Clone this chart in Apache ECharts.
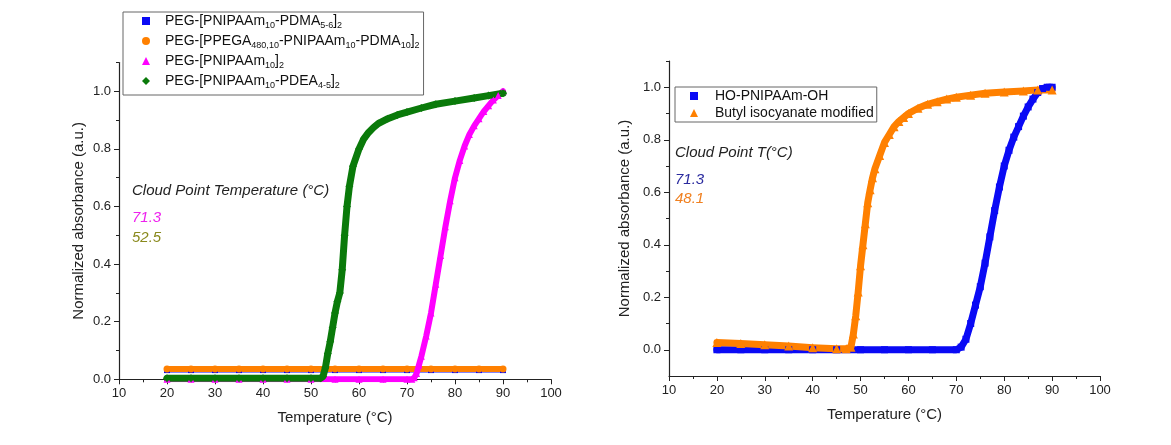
<!DOCTYPE html>
<html><head><meta charset="utf-8">
<script src="https://cdn.jsdelivr.net/npm/echarts@6/dist/echarts.min.js"></script>
<style>html,body{margin:0;padding:0;background:#fff}#c{width:1171px;height:445px}</style>
</head><body><div id="c"></div>
<script>
// ---------- data ----------
const xTicks = [10, 20, 30, 40, 50, 60, 70, 80, 90, 100];
const yTicks = [0, 0.2, 0.4, 0.6, 0.8, 1.0];
const yMinorLeft = [0.1, 0.3, 0.5, 0.7, 0.9, 1.1];
const yMinorRight = [0.1, 0.3, 0.5, 0.7, 0.9, 1.1];

// Left panel
const pdmaT = [20, 25, 30, 35, 40, 45, 50, 55, 60, 65, 70, 75, 80, 85, 90];
const pdmaV = [0.032, 0.032, 0.032, 0.032, 0.032, 0.032, 0.032, 0.032, 0.032, 0.032, 0.032, 0.032, 0.032, 0.032, 0.032];

const ppegaT = [20, 25, 30, 35, 40, 45, 50, 55, 60, 65, 70, 75, 80, 85, 90];
const ppegaV = [0.036, 0.036, 0.036, 0.036, 0.036, 0.036, 0.036, 0.036, 0.036, 0.036, 0.036, 0.036, 0.036, 0.036, 0.036];

const pnipaamT = [20, 25, 30, 35, 40, 45, 50, 55, 60, 65, 70, 71, 71.5, 72, 72.5, 73, 74, 75, 76, 77, 78, 79, 80, 81, 82, 83, 84, 85, 86, 87, 88, 89, 90];
const pnipaamV = [0, 0, 0, 0, 0, 0, 0, 0, 0, 0, 0, 0, 0.005, 0.02, 0.05, 0.08, 0.15, 0.23, 0.33, 0.43, 0.53, 0.62, 0.70, 0.76, 0.81, 0.85, 0.88, 0.905, 0.93, 0.95, 0.97, 0.985, 1.0];

const pdeaT = [20, 25, 30, 35, 40, 45, 50, 52, 52.5, 53, 53.5, 54, 54.5, 55, 55.5, 56, 56.5, 57, 57.5, 58, 58.75, 60, 61, 62, 63, 64, 66, 68, 70, 73, 76, 80, 84, 87, 90];
const pdeaV = [0.004, 0.004, 0.004, 0.004, 0.004, 0.004, 0.004, 0.004, 0.01, 0.04, 0.09, 0.13, 0.18, 0.23, 0.27, 0.30, 0.38, 0.50, 0.60, 0.67, 0.74, 0.80, 0.835, 0.857, 0.874, 0.888, 0.905, 0.918, 0.928, 0.942, 0.955, 0.966, 0.977, 0.985, 0.993];

// Right panel
const hoT = [20, 25, 30, 35, 40, 45, 50, 55, 60, 65, 70, 71, 72, 73, 74, 75, 76, 77, 78, 79, 80, 81, 82, 83, 84, 85, 86, 87, 88, 89, 90];
const hoV = [0, 0, 0, 0, 0, 0, 0, 0, 0, 0, 0, 0.01, 0.04, 0.10, 0.17, 0.24, 0.33, 0.43, 0.53, 0.62, 0.70, 0.76, 0.81, 0.85, 0.89, 0.925, 0.955, 0.98, 0.995, 1.0, 1.0];

const butylT = [20, 25, 30, 35, 40, 45, 47, 48, 48.5, 49, 49.5, 50, 50.5, 51, 51.5, 52, 52.5, 53, 54, 55, 56, 57, 58, 59, 60, 62, 64, 66, 68, 70, 73, 76, 80, 84, 87, 90];
const butylV = [0.028, 0.024, 0.019, 0.014, 0.008, 0.004, 0.004, 0.01, 0.06, 0.13, 0.22, 0.32, 0.40, 0.48, 0.56, 0.61, 0.655, 0.69, 0.74, 0.79, 0.82, 0.85, 0.87, 0.885, 0.90, 0.92, 0.935, 0.945, 0.955, 0.962, 0.97, 0.977, 0.982, 0.986, 0.99, 0.99];

const leftNames = ['PEG-[PNIPAAm10-PDMA5-6]2', 'PEG-[PPEGA480,10-PNIPAAm10-PDMA10]2', 'PEG-[PNIPAAm10]2', 'PEG-[PNIPAAm10-PDEA4-5]2'];
const leftRich = [
  '{n|PEG-[PNIPAAm}{s|10}{n|-PDMA}{s|5-6}{n|]}{s|2}',
  '{n|PEG-[PPEGA}{s|480,10}{n|-PNIPAAm}{s|10}{n|-PDMA}{s|10}{n|]}{s|2}',
  '{n|PEG-[PNIPAAm}{s|10}{n|]}{s|2}',
  '{n|PEG-[PNIPAAm}{s|10}{n|-PDEA}{s|4-5}{n|]}{s|2}'
];
const rightNames = ['HO-PNIPAAm-OH', 'Butyl isocyanate modified'];

// ---------- styling ----------
const FONT = "'Liberation Sans', Arial, sans-serif";
const AX = '#222';
const C = { blue: '#0a0af5', orange: '#ff8000', magenta: '#ff00ff', green: '#0a7a0a' };

function zip(t, v) { return t.map((x, i) => [x, v[i]]); }

function xAxisDef(gi) {
  return {
    type: 'value', gridIndex: gi, min: 10, max: 100, interval: 10,
    name: 'Temperature (°C)', nameLocation: 'middle', nameGap: 31,
    nameTextStyle: { fontFamily: FONT, fontSize: 15, color: AX },
    axisLine: { onZero: false, lineStyle: { color: AX, width: 1.2 } },
    axisTick: { length: 5, lineStyle: { color: AX } },
    minorTick: { show: true, splitNumber: 2, length: 3, lineStyle: { color: AX } },
    axisLabel: { fontFamily: FONT, fontSize: 13, color: AX, margin: 8 },
    splitLine: { show: false }
  };
}
function yAxisDef(gi, min, gap) {
  return {
    type: 'value', gridIndex: gi, position: 'left', min: min, max: 1.1, interval: 0.1,
    name: 'Normalized absorbance (a.u.)', nameLocation: 'middle', nameGap: gap,
    nameTextStyle: { fontFamily: FONT, fontSize: 15, color: AX },
    axisLine: { onZero: false, lineStyle: { color: AX, width: 1.2 } },
    axisTick: { customValues: yTicks, length: 5, lineStyle: { color: AX } },
    axisLabel: { customValues: yTicks, fontFamily: FONT, fontSize: 13, color: AX, margin: 8,
                 formatter: v => v.toFixed(1) },
    splitLine: { show: false }
  };
}
function yMinorDef(gi, min, vals) {
  return {
    type: 'value', gridIndex: gi, position: 'left', offset: 0, min: min, max: 1.1, interval: 0.1,
    axisLine: { show: false, onZero: false },
    axisTick: { customValues: vals, length: 3, lineStyle: { color: AX } },
    axisLabel: { show: false }, splitLine: { show: false }
  };
}
function ser(name, t, v, color, symbol, size, xi, yi, lw) {
  return {
    type: 'line', name: name, xAxisIndex: xi, yAxisIndex: yi, data: zip(t, v),
    symbol: symbol, symbolSize: size, showAllSymbol: true, smooth: false,
    lineStyle: { color: color, width: lw, cap: 'round', join: 'round' },
    itemStyle: { color: color, borderWidth: 0 },
    emphasis: { disabled: true }, animation: false
  };
}

const chart = echarts.init(document.getElementById('c'), null, { renderer: 'canvas' });
chart.setOption({
  backgroundColor: '#ffffff',
  animation: false,
  grid: [
    { left: 119, top: 62.5, width: 432, height: 316.8 },
    { left: 669, top: 61, width: 431, height: 315 }
  ],
  xAxis: [xAxisDef(0), xAxisDef(1)],
  yAxis: [yAxisDef(0, 0, 33), yAxisDef(1, -0.1, 37), yMinorDef(0, 0, yMinorLeft), yMinorDef(1, -0.1, yMinorRight)],
  legend: [
    {
      orient: 'vertical', left: 123, top: 12, itemWidth: 8, itemHeight: 8, itemGap: 4,
      padding: [2, 4, 5, 19], borderColor: '#666', borderWidth: 1, selectedMode: false,
      data: [
        { name: leftNames[0], icon: 'rect' },
        { name: leftNames[1], icon: 'circle' },
        { name: leftNames[2], icon: 'triangle' },
        { name: leftNames[3], icon: 'diamond' }
      ],
      formatter: name => leftRich[leftNames.indexOf(name)],
      textStyle: {
        fontFamily: FONT, fontSize: 14, color: '#111', padding: [0, 0, 0, 10],
        rich: {
          n: { fontFamily: FONT, fontSize: 14, lineHeight: 18, color: '#111' },
          s: { fontFamily: FONT, fontSize: 9, lineHeight: 8, verticalAlign: 'bottom', color: '#111' }
        }
      }
    },
    {
      orient: 'vertical', left: 675, top: 87, itemWidth: 8, itemHeight: 8, itemGap: 1,
      padding: [1, 3, 1, 15], borderColor: '#666', borderWidth: 1, selectedMode: false,
      data: [
        { name: rightNames[0], icon: 'rect' },
        { name: rightNames[1], icon: 'triangle' }
      ],
      textStyle: { fontFamily: FONT, fontSize: 14, color: '#111', lineHeight: 16, padding: [0, 0, 0, 12] }
    }
  ],
  graphic: [
    { type: 'text', x: 132, y: 190.7, style: { text: 'Cloud Point Temperature (°C)', font: 'italic 15px ' + FONT, fill: '#222', verticalAlign: 'middle' } },
    { type: 'text', x: 132, y: 218.3, style: { text: '71.3', font: 'italic 15px ' + FONT, fill: '#ee22ee', verticalAlign: 'middle' } },
    { type: 'text', x: 132, y: 237.7, style: { text: '52.5', font: 'italic 15px ' + FONT, fill: '#8a8a1e', verticalAlign: 'middle' } },
    { type: 'text', x: 675, y: 152.7, style: { text: 'Cloud Point T(°C)', font: 'italic 15px ' + FONT, fill: '#222', verticalAlign: 'middle' } },
    { type: 'text', x: 675, y: 180, style: { text: '71.3', font: 'italic 15px ' + FONT, fill: '#2a2a9e', verticalAlign: 'middle' } },
    { type: 'text', x: 675, y: 199, style: { text: '48.1', font: 'italic 15px ' + FONT, fill: '#f08020', verticalAlign: 'middle' } }
  ],
  series: [
    ser(leftNames[0], pdmaT, pdmaV, C.blue, 'rect', 6, 0, 0, 5),
    ser(leftNames[1], ppegaT, ppegaV, C.orange, 'circle', 7, 0, 0, 6),
    ser(leftNames[2], pnipaamT, pnipaamV, C.magenta, 'triangle', 7, 0, 0, 6),
    ser(leftNames[3], pdeaT, pdeaV, C.green, 'diamond', 8, 0, 0, 7),
    ser(rightNames[0], hoT, hoV, C.blue, 'rect', 7, 1, 1, 7),
    ser(rightNames[1], butylT, butylV, C.orange, 'triangle', 9, 1, 1, 7)
  ]
});
</script></body></html>
